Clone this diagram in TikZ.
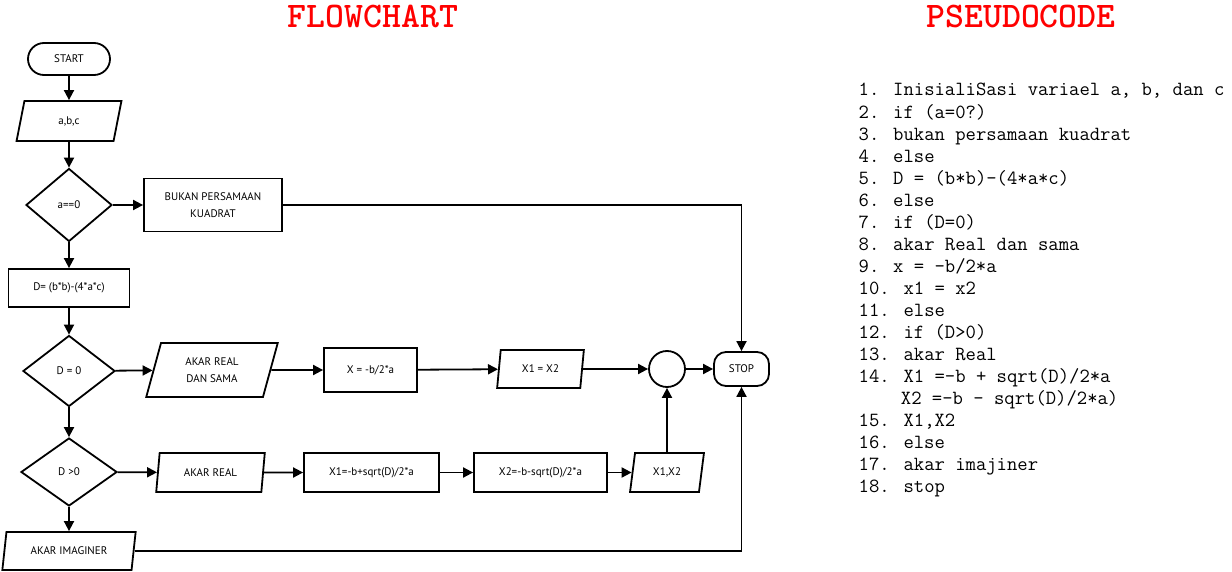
\documentclass[tikz,border=0pt]{standalone}
\usepackage{fontspec}
\setmainfont{PT Sans}
\usetikzlibrary{shapes.geometric,arrows.meta}
\begin{document}
\begin{tikzpicture}[x=1pt,y=-1pt,
  lbl/.style={font=\fontsize{11}{16.5}\selectfont, inner sep=0pt, align=center},
  base/.style={lbl, draw, line width=1.8pt},
  term/.style={base, rectangle},
  proc/.style={base, rectangle},
  dec/.style={base, diamond},
  io/.style={base, trapezium, trapezium stretches=true},
  junc/.style={base, circle, minimum size=36pt},
  arr/.style={line width=1.8pt, -{Triangle[length=10pt,width=10pt]}},
  title/.style={font=\ttfamily\bfseries\fontsize{36}{38}\selectfont, text=red, inner sep=0pt, anchor=base},
  code/.style={font=\ttfamily\fontsize{20.1}{22}\selectfont, inner sep=0pt, anchor=base west}
]
\useasboundingbox (0,0) rectangle (1232,572);

% titles
\node[title] (t1) at (373,28) {FLOWCHART};
\node[title] (t2) at (1021,28) {PSEUDOCODE};

% flowchart nodes
\node[term, rounded corners=16pt, minimum width=82pt, minimum height=32pt] (start) at (69,59) {START};
\node[io, trapezium left angle=78.7, trapezium right angle=101.3, minimum width=105pt, minimum height=40pt] (abc) at (69,121) {a,b,c};
\node[dec, minimum width=86pt, minimum height=73pt] (a0) at (69,205) {a==0};
\node[proc, minimum width=138pt, minimum height=53pt] (bukan) at (213,205) {BUKAN PERSAMAAN\\KUADRAT};
\node[proc, minimum width=121pt, minimum height=38pt] (dbox) at (69,288) {D= (b*b)-(4*a*c)};
\node[dec, minimum width=92pt, minimum height=71pt] (d0) at (69,371) {D = 0};
\node[io, trapezium left angle=72.5, trapezium right angle=107.5, minimum width=132pt, minimum height=54pt] (sama) at (212,370) {AKAR REAL\\DAN SAMA};
\node[proc, minimum width=93pt, minimum height=44pt] (xbox) at (370.5,370) {X = -b/2*a};
\node[io, trapezium left angle=78, trapezium right angle=102, minimum width=87pt, minimum height=38pt] (x12eq) at (540.5,369) {X1 = X2};
\node[junc] (circ) at (667,369) {};
\node[term, rounded corners=12pt, minimum width=55pt, minimum height=34pt] (stop) at (741.5,369) {STOP};
\node[dec, minimum width=96pt, minimum height=68pt] (dg0) at (69,472) {D >0};
\node[io, trapezium left angle=77, trapezium right angle=103, minimum width=109pt, minimum height=39pt] (real) at (210.5,472.5) {AKAR REAL};
\node[proc, minimum width=135pt, minimum height=39pt] (x1box) at (371.5,472.5) {X1=-b+sqrt(D)/2*a};
\node[proc, minimum width=133pt, minimum height=39pt] (x2box) at (540.5,472.5) {X2=-b-sqrt(D)/2*a};
\node[io, trapezium left angle=77, trapezium right angle=103, minimum width=74pt, minimum height=39pt] (x12) at (667,472.5) {X1,X2};
\node[io, trapezium left angle=72.5, trapezium right angle=107.5, minimum width=134pt, minimum height=38pt] (imag) at (69,551) {AKAR IMAGINER};

% connectors
\draw[arr] (start) -- (abc);
\draw[arr] (abc) -- (a0);
\draw[arr] (a0) -- (bukan);
\draw[arr] (a0) -- (dbox);
\draw[arr] (dbox) -- (d0);
\draw[arr] (d0) -- (sama);
\draw[arr] (sama) -- (xbox);
\draw[arr] (xbox) -- (x12eq);
\draw[arr] (x12eq) -- (circ);
\draw[arr] (circ) -- (stop);
\draw[arr] (bukan) -| (stop);
\draw[arr] (d0) -- (dg0);
\draw[arr] (dg0) -- (real);
\draw[arr] (real) -- (x1box);
\draw[arr] (x1box) -- (x2box);
\draw[arr] (x2box) -- (x12);
\draw[arr] (x12) -- (circ);
\draw[arr] (dg0) -- (imag);
\draw[arr] (imag) -| (stop);

% pseudocode
\node[code] (p1) at (858.5,96) {1. InisialiSasi variael a, b, dan c};
\node[code] (p2) at (858.5,118.05) {2. if (a=0?)};
\node[code] (p3) at (858.5,140.1) {3. bukan persamaan kuadrat};
\node[code] (p4) at (858.5,162.15) {4. else};
\node[code] (p5) at (858.5,184.2) {5. D = (b*b)-(4*a*c)};
\node[code] (p6) at (858.5,206.25) {6. else};
\node[code] (p7) at (858.5,228.3) {7. if (D=0)};
\node[code] (p8) at (858.5,250.35) {8. akar Real dan sama};
\node[code] (p9) at (858.5,272.4) {9. x = -b/2*a};
\node[code] (p10) at (858.5,294.45) {10. x1 = x2};
\node[code] (p11) at (858.5,316.5) {11. else};
\node[code] (p12) at (858.5,338.55) {12. if (D>0)};
\node[code] (p13) at (858.5,360.6) {13. akar Real};
\node[code] (p14) at (858.5,382.65) {14. X1 =-b + sqrt(D)/2*a};
\node[code] (p14b) at (900.74,404.7) {X2 =-b - sqrt(D)/2*a)};
\node[code] (p15) at (858.5,426.75) {15. X1,X2};
\node[code] (p16) at (858.5,448.8) {16. else};
\node[code] (p17) at (858.5,470.85) {17. akar imajiner};
\node[code] (p18) at (858.5,492.9) {18. stop};
\end{tikzpicture}
\end{document}
